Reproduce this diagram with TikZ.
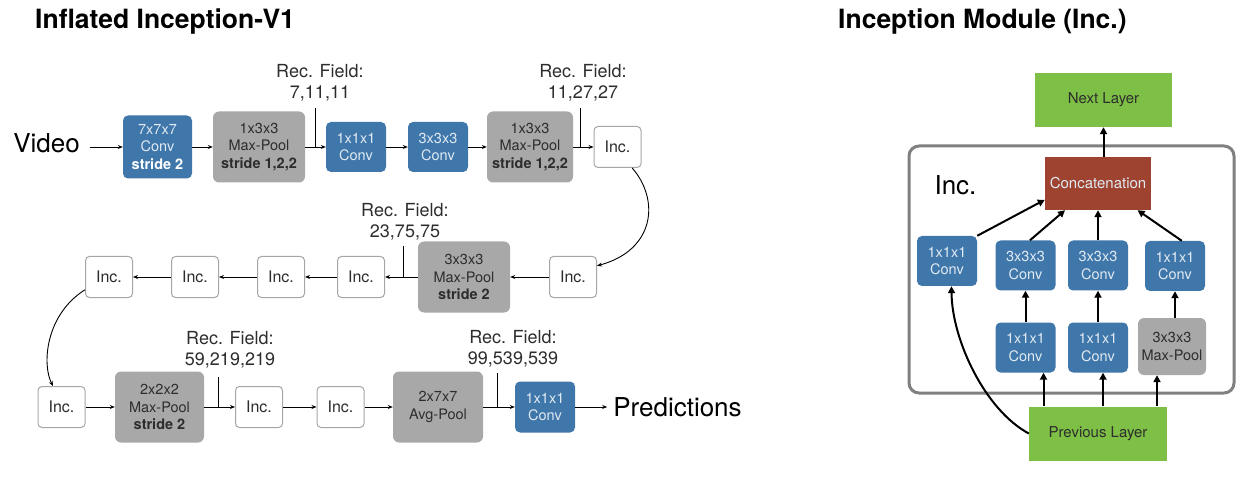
\documentclass[tikz,border=0pt]{standalone}
\usepackage{fontspec}
\setmainfont{TeX Gyre Heros}
\usetikzlibrary{arrows.meta}
\definecolor{convblue}{RGB}{63,119,170}
\definecolor{poolgray}{RGB}{168,168,168}
\definecolor{layergreen}{RGB}{126,192,70}
\definecolor{concatred}{RGB}{158,67,48}
\definecolor{boxtext}{RGB}{45,45,45}
\definecolor{bluetext}{RGB}{225,234,243}
\definecolor{framegray}{RGB}{128,128,128}
\newcommand{\fsz}[2]{\fontsize{#1}{#2}\selectfont}
\begin{document}
\begin{tikzpicture}[x=1pt,y=-1pt,
    conv/.style={fill=convblue, text=bluetext, rounded corners=5pt, align=center, inner sep=0pt,
      minimum width=60pt, minimum height=50pt, font=\fsz{14.5}{17.5}},
    pool/.style={fill=poolgray, text=boxtext, rounded corners=6pt, align=center, inner sep=0pt,
      minimum width=90pt, minimum height=71pt, font=\fsz{14.5}{17.5}},
    inc/.style={draw=gray!70, line width=1pt, fill=white, rounded corners=4pt, inner sep=0pt,
      minimum width=47pt, minimum height=41pt, text=boxtext, font=\fsz{16}{19}},
    recfield/.style={align=center, text=boxtext, inner sep=0pt, font=\fsz{18}{21}},
    layer/.style={fill=layergreen, text=boxtext, inner sep=0pt, minimum width=138pt,
      minimum height=54pt, font=\fsz{15}{18}},
    flow/.style={-{Stealth[length=5pt,width=4pt]}, line width=0.9pt},
    feed/.style={-{Triangle[length=7pt,width=7pt]}, line width=2pt}]
  \useasboundingbox (0,0) rectangle (1239,486);

  % titles
  \node[anchor=base west, inner sep=0pt, font=\fsz{26.5}{30}\bfseries] (title1) at (35,29) {Inflated Inception-V1};
  \node[anchor=base west, inner sep=0pt, font=\fsz{26.5}{30}\bfseries] (title2) at (838,29) {Inception Module (Inc.)};

  % first row
  \node[inner sep=0pt, font=\fsz{26}{30}] (video) at (46.5,143) {Video};
  \node[conv, minimum width=69pt, minimum height=63pt] (conv1) at (157.5,147) {7x7x7\\Conv\\\textbf{\color{white}stride 2}};
  \node[pool, minimum width=92pt] (pool1) at (259,147) {1x3x3\\Max-Pool\\\textbf{stride 1,2,2}};
  \node[conv] (conv2) at (356,147) {1x1x1\\Conv};
  \node[conv] (conv3) at (438,147) {3x3x3\\Conv};
  \node[pool, minimum width=86pt] (pool2) at (530,147) {1x3x3\\Max-Pool\\\textbf{stride 1,2,2}};
  \node[inc] (inc1) at (617.5,147) {Inc.};
  \node[recfield] (rf1) at (320,82.5) {Rec. Field:\\7,11,11};
  \node[recfield] (rf2) at (583,82.5) {Rec. Field:\\11,27,27};
  \coordinate (t1) at (315,147);
  \coordinate (t2) at (580,147);
  \draw[flow] ([xshift=10pt]video.east |- conv1.west) -- (conv1);
  \draw[flow] (conv1) -- (pool1);
  \draw[flow] (pool1) -- (conv2);
  \draw[flow] (conv2) -- (conv3);
  \draw[flow] (conv3) -- (pool2);
  \draw[flow] (pool2) -- (inc1);
  \draw[line width=0.9pt] (t1) -- ++(0,-39);
  \draw[line width=0.9pt] (t2) -- ++(0,-39);

  % second row
  \node[inc] (inc2) at (573,277) {Inc.};
  \node[pool, minimum width=92pt] (pool3) at (464,277) {3x3x3\\Max-Pool\\\textbf{stride 2}};
  \node[inc] (inc3) at (361,277) {Inc.};
  \node[inc] (inc4) at (281,277) {Inc.};
  \node[inc] (inc5) at (195,277) {Inc.};
  \node[inc] (inc6) at (109,277) {Inc.};
  \node[recfield] (rf3) at (405,222) {Rec. Field:\\23,75,75};
  \coordinate (t3) at (403,277);
  \draw[flow] (inc1.-55) .. controls (660,200) and (655,250) .. (inc2.25);
  \draw[flow] (inc2) -- (pool3);
  \draw[flow] (pool3) -- (inc3);
  \draw[flow] (inc3) -- (inc4);
  \draw[flow] (inc4) -- (inc5);
  \draw[flow] (inc5) -- (inc6);
  \draw[line width=0.9pt] (t3) -- ++(0,-31);

  % third row
  \node[inc] (inc7) at (61.5,407) {Inc.};
  \node[pool, minimum width=89pt] (pool4) at (159.5,407) {2x2x2\\Max-Pool\\\textbf{stride 2}};
  \node[inc] (inc8) at (259,407) {Inc.};
  \node[inc] (inc9) at (340.5,407) {Inc.};
  \node[pool] (pool5) at (438,407) {2x7x7\\Avg-Pool};
  \node[conv, minimum height=51pt] (conv4) at (545,407) {1x1x1\\Conv};
  \node[inner sep=0pt, font=\fsz{26}{30}] (pred) at (677.5,407) {Predictions};
  \node[recfield] (rf4) at (230,349.5) {Rec. Field:\\59,219,219};
  \node[recfield] (rf5) at (513,348.5) {Rec. Field:\\99,539,539};
  \coordinate (t4) at (218,407);
  \coordinate (t5) at (497,407);
  \draw[flow] (inc6.208) .. controls (45,315) and (42,365) .. (inc7.112);
  \draw[flow] (inc7) -- (pool4);
  \draw[flow] (pool4) -- (inc8);
  \draw[flow] (inc8) -- (inc9);
  \draw[flow] (inc9) -- (pool5);
  \draw[flow] (pool5) -- (conv4);
  \draw[flow] (conv4) -- ([xshift=-6pt]pred.west);
  \draw[line width=0.9pt] (t4) -- ++(0,-30);
  \draw[line width=0.9pt] (t5) -- ++(0,-34);

  % inception module
  \draw[framegray, line width=3pt, rounded corners=10pt] (909,146) rectangle (1234,393);
  \node[layer, minimum width=137pt] (next) at (1103.5,100) {Next Layer};
  \node[fill=concatred, text=bluetext, inner sep=0pt, minimum width=106pt, minimum height=53pt,
    font=\fsz{15}{18}] (concat) at (1098,183.5) {Concatenation};
  \node[inner sep=0pt, font=\fsz{26}{30}] (inclabel) at (955.5,185) {Inc.};
  \node[conv] (cA) at (947,261) {1x1x1\\Conv};
  \node[conv] (cB) at (1025.5,265.5) {3x3x3\\Conv};
  \node[conv] (cC) at (1098,265.5) {3x3x3\\Conv};
  \node[conv] (cD) at (1175,266) {1x1x1\\Conv};
  \node[conv] (cE) at (1025.5,347.5) {1x1x1\\Conv};
  \node[conv] (cF) at (1098,347.5) {1x1x1\\Conv};
  \node[pool, minimum width=68pt, minimum height=57pt] (mp) at (1172,346.5) {3x3x3\\Max-Pool};
  \node[layer] (prev) at (1098,433.5) {Previous Layer};
  \draw[feed] (next.south |- concat.north) -- (next.south);
  \draw[feed] (cA.north east) -- (concat.197);
  \draw[feed] (cB.80) -- (concat.219);
  \draw[feed] (cC) -- (concat);
  \draw[feed] (cD.75) -- (concat.-34);
  \draw[feed] (cE) -- (cB);
  \draw[feed] (cF) -- (cC);
  \draw[feed] (cD.south |- mp.north) -- (cD.south);
  \draw[feed] ([xshift=18pt]cE.south |- prev.north) -- ([xshift=18pt]cE.south);
  \draw[feed] ([xshift=5pt]cF.south |- prev.north) -- ([xshift=5pt]cF.south);
  \draw[feed] ([xshift=-15pt]mp.south |- prev.north) -- ([xshift=-15pt]mp.south);
  \draw[feed] (prev.west) .. controls (985,410) and (952,340) .. (cA.-80);
\end{tikzpicture}
\end{document}
